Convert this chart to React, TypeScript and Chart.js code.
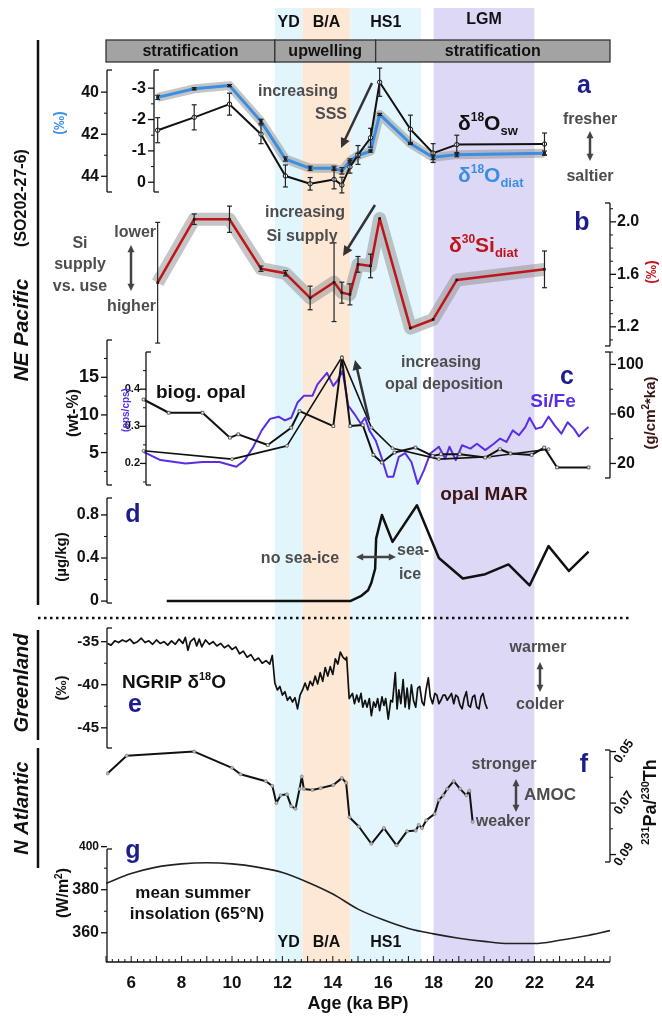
import React, { useEffect, useRef } from "react";
import { Chart, registerables } from "chart.js";

Chart.register(...registerables);

const W = 662;
const H = 1017;

// ---------------- data ----------------
const xTickValues = [6, 8, 10, 12, 14, 16, 18, 20, 22, 24];
const xTickLabels = ["6", "8", "10", "12", "14", "16", "18", "20", "22", "24"];

const bandNames = ["YD", "B/A", "HS1", "LGM"];
const bandStart = [11.7, 12.8, 14.7, 18.0];
const bandEnd = [12.8, 14.7, 17.5, 22.0];

const regimeNames = ["stratification", "upwelling", "stratification"];
const regimeStart = [5, 11.7, 15.7];
const regimeEnd = [11.7, 15.7, 25];

// panel a / b (SO202-27-6 samples)
const sampleAge = [7.05, 8.5, 9.9, 11.15, 12.12, 13.1, 14.05, 14.36, 14.68, 15.0, 15.5, 15.86, 17.08, 17.98, 18.92, 22.4];
const d18Odiat = [40.25, 39.84, 39.69, 41.39, 43.18, 43.62, 43.62, 43.74, 43.27, 43.01, 42.8, 41.06, 42.44, 43.1, 42.97, 42.9];
const d18OdiatErr = [0.1, 0.05, 0.05, 0.1, 0.1, 0.1, 0.1, 0.15, 0.1, 0.1, 0.05, 0.05, 0.05, 0.1, 0.1, 0.1];
const d18Osw = [-1.66, -2.07, -2.49, -1.53, -0.2, 0.05, -0.09, 0.09, -0.49, -0.87, -1.42, -3.19, -1.69, -0.93, -1.2, -1.22];
const d18OswErr = [0.4, 0.4, 0.35, 0.3, 0.35, 0.2, 0.3, 0.25, 0.2, 0.3, 0.3, 0.45, 0.45, 0.3, 0.3, 0.35];
const d30Si = [1.536, 2.02, 2.02, 1.643, 1.608, 1.42, 1.54, 1.46, 1.447, 1.676, 1.664, 2.025, 1.19, 1.256, 1.557, 1.638];
const d30SiErr = [0.46, 0.04, 0.1, 0.02, 0.02, 0.09, 0.3, 0.08, 0.08, 0.06, 0.09, 0, 0, 0, 0, 0.14];

// panel c
const opalAge = [6.49, 7.49, 8.83, 9.92, 10.25, 11.42, 12.35, 12.68, 14.02, 14.36, 14.69, 15.19, 15.61, 15.95, 16.45, 17.28, 17.96, 18.29, 19.04, 20.05, 20.63, 21.05, 21.89, 22.39, 22.9, 24.15];
const opalWt = [12.05, 10.29, 10.29, 6.98, 7.42, 6.01, 8.3, 10.5, 8.52, 17.6, 8.52, 8.65, 4.69, 3.68, 5.0, 5.66, 4.56, 4.78, 4.78, 4.34, 5.44, 4.87, 4.69, 5.66, 3.02, 3.02];
const marAge = [6.49, 10.0, 12.18, 14.36, 15.53, 16.37, 18.21, 20.22, 22.56];
const marVal = [30.2, 23.5, 34.2, 105.9, 49, 32.3, 23.5, 25.4, 31.5];
const siFeAge = [6.49, 7.16, 8.16, 8.83, 9.5, 10.17, 10.51, 10.84, 11.18, 11.51, 11.85, 12.1, 12.35, 12.6, 12.85, 13.19, 13.39, 13.77, 14.02, 14.19, 14.39, 14.61, 14.86, 15.11, 15.28, 15.45, 15.7, 15.95, 16.17, 16.4, 16.62, 16.87, 17.12, 17.37, 17.62, 17.87, 18.21, 18.46, 18.63, 18.88, 19.13, 19.46, 19.72, 20.05, 20.39, 20.64, 20.89, 21.14, 21.39, 21.64, 21.81, 22.06, 22.31, 22.56, 22.81, 23.07, 23.32, 23.57, 23.77, 23.99, 24.15];
const siFeVal = [0.231, 0.209, 0.2, 0.204, 0.204, 0.191, 0.209, 0.244, 0.289, 0.32, 0.326, 0.316, 0.323, 0.364, 0.382, 0.382, 0.413, 0.444, 0.409, 0.424, 0.449, 0.356, 0.333, 0.307, 0.323, 0.289, 0.262, 0.213, 0.164, 0.164, 0.218, 0.228, 0.204, 0.145, 0.182, 0.227, 0.245, 0.213, 0.245, 0.209, 0.249, 0.24, 0.253, 0.236, 0.253, 0.267, 0.258, 0.289, 0.276, 0.298, 0.323, 0.293, 0.298, 0.326, 0.302, 0.28, 0.311, 0.293, 0.273, 0.289, 0.298];

// panel d
const iceAge = [7.41, 14.69, 15.11, 15.4, 15.53, 15.68, 15.72, 15.95, 16.37, 17.34, 18.21, 19.16, 20.05, 20.97, 21.81, 22.56, 23.37, 24.15];
const iceVal = [0, 0, 0.045, 0.1, 0.17, 0.3, 0.58, 0.8, 0.55, 0.89, 0.4, 0.21, 0.25, 0.34, 0.145, 0.51, 0.28, 0.46];

// panel e (NGRIP d18O)
const ngripAge = [
  5.06, 5.2, 5.35, 5.5, 5.65, 5.8, 5.95, 6.1, 6.25, 6.4,
  6.55, 6.7, 6.85, 7.0, 7.15, 7.3, 7.45, 7.6, 7.75, 7.9,
  8.05, 8.15, 8.25, 8.35, 8.5, 8.6, 8.7, 8.8, 8.95, 9.1,
  9.25, 9.4, 9.55, 9.7, 9.85, 10.0, 10.15, 10.3, 10.45, 10.6,
  10.75, 10.9, 11.05, 11.2, 11.35, 11.5, 11.6, 11.7, 11.8, 11.9,
  12.0, 12.1, 12.2, 12.3, 12.4, 12.5, 12.6, 12.7, 12.8, 12.9,
  13.0, 13.1, 13.2, 13.3, 13.4, 13.5, 13.6, 13.7, 13.8, 13.9,
  14.0, 14.1, 14.2, 14.3, 14.4, 14.5, 14.55, 14.65, 14.78, 14.86,
  14.95, 15.03, 15.12, 15.19, 15.28, 15.36, 15.45, 15.53, 15.62, 15.7,
  15.78, 15.86, 15.95, 16.03, 16.1, 16.2, 16.3, 16.37, 16.48, 16.55,
  16.62, 16.7, 16.79, 16.87, 16.95, 17.03, 17.12, 17.2, 17.29, 17.37,
  17.45, 17.54, 17.62, 17.7, 17.79, 17.87, 17.96, 18.05, 18.13, 18.21,
  18.29, 18.38, 18.46, 18.54, 18.63, 18.71, 18.8, 18.88, 18.96, 19.05,
  19.13, 19.21, 19.3, 19.38, 19.46, 19.55, 19.63, 19.71, 19.8, 19.88,
  19.96, 20.05, 20.13,
];
const ngripVal = [
  -35.2, -35.4, -34.9, -35.1, -34.8, -35.0, -34.7, -35.2, -35.0, -34.6,
  -35.1, -34.9, -35.3, -34.8, -35.2, -35.0, -35.4, -34.9, -35.3, -34.7,
  -35.2, -34.5, -36.0, -35.0, -34.6, -35.5, -34.7, -35.6, -34.8, -35.3,
  -35.0, -35.5, -35.2, -35.7, -35.4, -35.9, -35.6, -36.4, -36.1, -36.8,
  -36.5, -37.2, -36.9, -37.5, -37.2, -37.6, -36.6, -39.8, -40.6, -40.2,
  -41.2, -40.8, -41.8, -41.4, -42.0, -41.5, -42.8, -41.2, -40.6, -39.8,
  -40.6, -39.6, -40.1, -39.0, -39.9, -38.6, -39.6, -38.0, -39.0, -37.9,
  -38.8, -37.0, -37.6, -36.2, -36.8, -37.1, -36.8, -41.6, -41.0, -42.2,
  -41.2, -42.0, -41.0, -42.6, -41.8, -42.6, -41.6, -43.6, -42.0, -42.6,
  -41.6, -43.0, -41.4, -42.4, -41.6, -44.0, -41.8, -42.0, -38.6, -42.8,
  -40.6, -42.2, -39.4, -42.6, -40.4, -42.8, -40.0, -41.8, -42.6, -40.4,
  -40.2, -42.0, -42.4, -40.6, -39.2, -41.4, -42.2, -41.0, -41.2, -42.2,
  -41.8, -41.2, -41.2, -41.8, -41.4, -41.0, -42.2, -41.2, -41.4, -42.4,
  -42.8, -41.6, -40.8, -42.4, -42.6, -41.4, -41.2, -42.6, -42.8, -41.4,
  -41.0, -42.2, -42.8,
];

// panel f (231Pa/230Th)
const paThAge = [5.06, 5.82, 8.5, 10.0, 10.34, 11.34, 11.6, 11.76, 11.93, 12.18, 12.35, 12.52, 12.68, 12.77, 12.85, 13.19, 13.52, 14.02, 14.36, 14.53, 14.66, 15.03, 15.53, 16.03, 16.53, 16.95, 17.29, 17.41, 17.54, 17.71, 18.04, 18.21, 18.38, 18.54, 18.8, 19.05, 19.3, 19.42, 19.55];
const paThVal = [0.0585, 0.0516, 0.05, 0.0563, 0.0588, 0.0615, 0.0633, 0.07, 0.067, 0.0666, 0.0712, 0.0722, 0.0645, 0.0597, 0.0645, 0.0649, 0.0642, 0.063, 0.0603, 0.0621, 0.0755, 0.0791, 0.0858, 0.0797, 0.0864, 0.0809, 0.0807, 0.0785, 0.0797, 0.0767, 0.0742, 0.0688, 0.067, 0.0645, 0.0615, 0.0645, 0.067, 0.0652, 0.0773];

// panel g (insolation)
const insolAge = [5, 6, 7, 8, 9, 10, 11, 12, 13, 14, 15, 16, 17, 18, 19, 20, 21, 22, 23, 24, 25];
const insolVal = [383, 387.5, 390.5, 392, 392.5, 392, 390.5, 388, 383.5, 378, 371, 366, 362, 359.5, 357.5, 356, 355, 355, 356.5, 358.5, 361];

// ---------------- styling / layout ----------------
const FF = "'Liberation Sans', Arial, Helvetica, sans-serif";
const B = (s) => `bold ${s}px ${FF}`;
const BLUE = "#3b8ee3";
const RED = "#c0141b";
const PURPLE = "#5a2ee6";
const NAVY = "#1c1c8c";
const GRAY_T = "#4d4d4d";
const MAROON = "#3a1414";
const BAND_COLORS = ["#e1f5fc", "#fde8d6", "#e3f6fd", "#ddd8f6"];

function lin(v1, p1, v2, p2) {
  const k = (p2 - p1) / (v2 - v1);
  const vAt = (p) => v1 + (p - p1) / k;
  return k < 0
    ? { min: vAt(H), max: vAt(0), reverse: false }
    : { min: vAt(0), max: vAt(H), reverse: true };
}

const AX = {
  aOut: lin(40, 88, 44, 173),
  aIn: lin(-3, 84, 0, 179),
  b: lin(2.0, 219, 1.2, 325),
  cOp: lin(15, 376, 5, 452),
  cCps: lin(0.4, 388, 0.2, 463),
  cMar: lin(100, 363, 20, 463),
  d: lin(0.8, 515, 0, 602),
  e: lin(-35, 643, -45, 730),
  f: lin(0.05, 754, 0.09, 858),
  g: lin(400, 850, 360, 937),
};

const pts = (xs, ys) => xs.map((x, i) => ({ x, y: ys[i] }));

// ---------------- drawing helpers ----------------
function text(ctx, t, x, y, font, color, align = "center", base = "middle") {
  ctx.font = font;
  ctx.fillStyle = color;
  ctx.textAlign = align;
  ctx.textBaseline = base;
  ctx.fillText(t, x, y);
}
function rotText(ctx, t, x, y, font, color, angle = -Math.PI / 2) {
  ctx.save();
  ctx.translate(x, y);
  ctx.rotate(angle);
  text(ctx, t, 0, 0, font, color);
  ctx.restore();
}
function rich(ctx, parts, x, y, color, align = "left") {
  let total = 0;
  for (const p of parts) {
    ctx.font = B(p.s);
    total += ctx.measureText(p.t).width;
  }
  let cx = align === "center" ? x - total / 2 : align === "right" ? x - total : x;
  ctx.fillStyle = color;
  ctx.textAlign = "left";
  ctx.textBaseline = "alphabetic";
  for (const p of parts) {
    ctx.font = B(p.s);
    ctx.fillText(p.t, cx, y + (p.dy || 0));
    cx += ctx.measureText(p.t).width;
  }
}
function line(ctx, x1, y1, x2, y2, color, w) {
  ctx.strokeStyle = color;
  ctx.lineWidth = w;
  ctx.beginPath();
  ctx.moveTo(x1, y1);
  ctx.lineTo(x2, y2);
  ctx.stroke();
}
function head(ctx, x1, y1, x2, y2, color, size) {
  const a = Math.atan2(y2 - y1, x2 - x1);
  ctx.fillStyle = color;
  ctx.beginPath();
  ctx.moveTo(x2, y2);
  ctx.lineTo(x2 - size * Math.cos(a - 0.45), y2 - size * Math.sin(a - 0.45));
  ctx.lineTo(x2 - size * Math.cos(a + 0.45), y2 - size * Math.sin(a + 0.45));
  ctx.closePath();
  ctx.fill();
}
function arrow(ctx, x1, y1, x2, y2, color, w, size) {
  const a = Math.atan2(y2 - y1, x2 - x1);
  line(ctx, x1, y1, x2 - size * 0.7 * Math.cos(a), y2 - size * 0.7 * Math.sin(a), color, w);
  head(ctx, x1, y1, x2, y2, color, size);
}
function dblArrow(ctx, x1, y1, x2, y2, color, w, size) {
  const a = Math.atan2(y2 - y1, x2 - x1);
  line(ctx, x1 + size * 0.7 * Math.cos(a), y1 + size * 0.7 * Math.sin(a), x2 - size * 0.7 * Math.cos(a), y2 - size * 0.7 * Math.sin(a), color, w);
  head(ctx, x1, y1, x2, y2, color, size);
  head(ctx, x2, y2, x1, y1, color, size);
}
function vAxis(ctx, scale, x, top, bottom, major, labels, minor, side, font, color, gap = 8, bracket = true) {
  const dir = side === "left" ? -1 : 1;
  ctx.lineCap = "butt";
  line(ctx, x, top, x, bottom, "#111", 1.3);
  if (bracket) {
    line(ctx, x, top, x - dir * 5, top, "#111", 1.3);
    line(ctx, x, bottom, x - dir * 5, bottom, "#111", 1.3);
  }
  for (const v of minor) {
    const y = scale.getPixelForValue(v);
    line(ctx, x, y, x + dir * 3, y, "#111", 1);
  }
  major.forEach((v, i) => {
    const y = scale.getPixelForValue(v);
    line(ctx, x, y, x + dir * 6, y, "#111", 1.3);
    if (labels && labels[i] != null) {
      text(ctx, labels[i], x + dir * gap, y, font, color, side === "left" ? "right" : "left");
    }
  });
}
function errBars(ctx, X, ys, ages, vals, errs, color, w) {
  ctx.lineCap = "butt";
  ages.forEach((a, i) => {
    if (!errs[i]) return;
    const x = X(a);
    const y1 = ys.getPixelForValue(vals[i] - errs[i]);
    const y2 = ys.getPixelForValue(vals[i] + errs[i]);
    line(ctx, x, y1, x, y2, color, w);
    line(ctx, x - 2.5, y1, x + 2.5, y1, color, w);
    line(ctx, x - 2.5, y2, x + 2.5, y2, color, w);
  });
}

const figPlugin = {
  id: "fig",
  beforeDatasetsDraw(chart) {
    const ctx = chart.ctx;
    const xs = chart.scales.x;
    ctx.save();
    bandNames.forEach((n, i) => {
      const x1 = xs.getPixelForValue(bandStart[i]);
      const x2 = xs.getPixelForValue(bandEnd[i]);
      ctx.fillStyle = BAND_COLORS[i];
      ctx.fillRect(x1, 8, x2 - x1, 954);
    });
    ctx.restore();
  },
  afterDatasetsDraw(chart) {
    const ctx = chart.ctx;
    const S = chart.scales;
    const xs = S.x;
    const X = (a) => xs.getPixelForValue(a);
    ctx.save();

    // error bars
    errBars(ctx, X, S.aIn, sampleAge, d18Osw, d18OswErr, "#222", 1.2);
    errBars(ctx, X, S.aOut, sampleAge, d18Odiat, d18OdiatErr, "#222", 1.2);
    errBars(ctx, X, S.b, sampleAge, d30Si, d30SiErr, "#222", 1.2);

    // band labels (top + bottom)
    bandNames.forEach((n, i) => {
      const cx = (X(bandStart[i]) + X(bandEnd[i])) / 2;
      text(ctx, n, cx, n === "LGM" ? 20 : 23, B(16), "#111");
      if (n !== "LGM") text(ctx, n, cx, 943, B(16), "#111");
    });

    // regime bar
    regimeNames.forEach((n, i) => {
      const x1 = X(regimeStart[i]);
      const x2 = X(regimeEnd[i]);
      ctx.fillStyle = "#a3a3a3";
      ctx.fillRect(x1, 40, x2 - x1, 22);
      ctx.strokeStyle = "#333";
      ctx.lineWidth = 1.3;
      ctx.strokeRect(x1, 40, x2 - x1, 22);
      text(ctx, n, (x1 + x2) / 2, 52, B(16), "#111");
    });

    // region group labels
    ctx.lineCap = "butt";
    line(ctx, 38, 40, 38, 605, "#111", 2.5);
    line(ctx, 38, 630, 38, 740, "#111", 2.5);
    line(ctx, 38, 748, 38, 868, "#111", 2.5);
    rotText(ctx, "(SO202-27-6)", 22, 198, B(16), "#111");
    rotText(ctx, "NE Pacific", 22, 330, `italic bold 21px ${FF}`, "#111");
    rotText(ctx, "Greenland", 22, 683, `italic bold 20px ${FF}`, "#111");
    rotText(ctx, "N Atlantic", 22, 808, `italic bold 20px ${FF}`, "#111");

    // dotted separator
    ctx.setLineDash([2.5, 3.5]);
    line(ctx, 38, 618, 632, 618, "#111", 2.5);
    ctx.setLineDash([]);

    // ---- panel a
    vAxis(ctx, S.aOut, 107, 70, 192, [40, 42, 44], ["40", "42", "44"], [41, 43], "left", B(16), "#111");
    vAxis(ctx, S.aIn, 154, 70, 192, [-3, -2, -1, 0], ["-3", "-2", "-1", "0"], [-2.5, -1.5, -0.5], "left", B(16), "#111");
    rotText(ctx, "(‰)", 60, 123, B(14), BLUE);
    text(ctx, "increasing", 298, 92, B(16), GRAY_T);
    text(ctx, "SSS", 331, 115, B(16), GRAY_T);
    arrow(ctx, 372, 83, 341, 148, "#333", 2.5, 11);
    rich(ctx, [{ t: "δ", s: 21 }, { t: "18", s: 12, dy: -9 }, { t: "O", s: 21 }, { t: "sw", s: 13, dy: 5 }], 458, 130, "#111");
    rich(ctx, [{ t: "δ", s: 21 }, { t: "18", s: 12, dy: -9 }, { t: "O", s: 21 }, { t: "diat", s: 13, dy: 5 }], 458, 182, BLUE);
    text(ctx, "a", 584, 86, B(25), NAVY);
    text(ctx, "fresher", 590, 120, B(16), GRAY_T);
    dblArrow(ctx, 590, 131, 590, 161, "#444", 2.5, 8);
    text(ctx, "saltier", 590, 177, B(16), GRAY_T);

    // ---- panel b
    vAxis(ctx, S.b, 610, 203, 346, [2.0, 1.6, 1.2], ["2.0", "1.6", "1.2"], [2.1, 1.9, 1.8, 1.7, 1.5, 1.4, 1.3, 1.1], "right", B(16), "#111", 7);
    rotText(ctx, "(‰)", 652, 272, B(14), RED);
    text(ctx, "lower", 156, 233, B(16), GRAY_T, "right");
    text(ctx, "Si", 80, 244, B(16), GRAY_T);
    text(ctx, "supply", 80, 265, B(16), GRAY_T);
    text(ctx, "vs. use", 80, 287, B(16), GRAY_T);
    text(ctx, "higher", 156, 307, B(16), GRAY_T, "right");
    dblArrow(ctx, 131, 245, 131, 291, "#444", 2.5, 8);
    text(ctx, "increasing", 305, 213, B(16), GRAY_T);
    text(ctx, "Si supply", 302, 237, B(16), GRAY_T);
    arrow(ctx, 375, 205, 343, 256, "#333", 2.5, 11);
    rich(ctx, [{ t: "δ", s: 21 }, { t: "30", s: 12, dy: -9 }, { t: "Si", s: 21 }, { t: "diat", s: 13, dy: 5 }], 449, 252, RED);
    text(ctx, "b", 582, 223, B(25), NAVY);

    // ---- panel c
    vAxis(ctx, S.cOp, 107, 340, 485, [15, 10, 5], ["15", "10", "5"], [17.5, 12.5, 7.5, 2.5], "left", B(18), "#111");
    vAxis(ctx, S.cCps, 146, 352, 485, [0.4, 0.3, 0.2], ["0.4", "0.3", "0.2"], [0.45, 0.35, 0.25, 0.15], "left", B(11), "#111", 6);
    vAxis(ctx, S.cMar, 610, 352, 478, [100, 60, 20], ["100", "60", "20"], [110, 80, 40], "right", B(16), "#111", 7);
    rotText(ctx, "(wt-%)", 74, 413, B(16), "#111");
    rotText(ctx, "(cps/cps)", 126, 410, B(10), PURPLE);
    ctx.save();
    ctx.translate(650, 413);
    ctx.rotate(-Math.PI / 2);
    rich(ctx, [{ t: "(g/cm", s: 15 }, { t: "2", s: 10, dy: -6 }, { t: "*ka)", s: 15 }], 0, 5, MAROON, "center");
    ctx.restore();
    text(ctx, "biog. opal", 156, 393, B(19), "#111", "left");
    text(ctx, "increasing", 441, 363, B(16), GRAY_T);
    text(ctx, "opal deposition", 444, 385, B(16), GRAY_T);
    arrow(ctx, 369, 420, 355, 360, "#333", 2.5, 11);
    text(ctx, "c", 567, 377, B(25), NAVY);
    text(ctx, "Si/Fe", 553, 402, B(19), PURPLE);
    text(ctx, "opal MAR", 484, 495, B(19), MAROON);

    // ---- panel d
    vAxis(ctx, S.d, 107, 498, 603, [0.8, 0.4, 0], ["0.8", "0.4", "0"], [0.6, 0.2], "left", B(16), "#111");
    rotText(ctx, "(µg/kg)", 62, 557, B(15), "#111");
    text(ctx, "d", 133, 515, B(25), NAVY);
    text(ctx, "no sea-ice", 300, 559, B(16), GRAY_T);
    dblArrow(ctx, 356, 557, 396, 557, "#444", 2.5, 8);
    text(ctx, "sea-", 397, 551, B(16), GRAY_T, "left");
    text(ctx, "ice", 410, 575, B(16), GRAY_T);

    // ---- panel e
    vAxis(ctx, S.e, 107, 628, 748, [-35, -40, -45], ["-35", "-40", "-45"], [-37.5, -42.5], "left", B(15), "#111");
    rotText(ctx, "(‰)", 62, 688, B(15), "#111");
    rich(ctx, [{ t: "NGRIP δ", s: 19 }, { t: "18", s: 11, dy: -8 }, { t: "O", s: 19 }], 122, 688, "#111");
    text(ctx, "e", 135, 705, B(25), NAVY);
    text(ctx, "warmer", 538, 648, B(16), GRAY_T);
    dblArrow(ctx, 540, 662, 540, 692, "#444", 2.5, 8);
    text(ctx, "colder", 540, 705, B(16), GRAY_T);

    // ---- panel f
    vAxis(ctx, S.f, 610, 750, 862, [0.05, 0.07, 0.09], null, [0.06, 0.08], "right", B(13), "#111");
    [[0.05, "0.05"], [0.07, "0.07"], [0.09, "0.09"]].forEach(([v, l]) => {
      const y = S.f.getPixelForValue(v);
      ctx.save();
      ctx.translate(624, y);
      ctx.rotate(-Math.PI / 3.2);
      text(ctx, l, 0, 0, B(13), "#111");
      ctx.restore();
    });
    ctx.save();
    ctx.translate(650, 802);
    ctx.rotate(-Math.PI / 2);
    rich(ctx, [{ t: "231", s: 11, dy: -7 }, { t: "Pa/", s: 18 }, { t: "230", s: 11, dy: -7 }, { t: "Th", s: 18 }], 0, 6, "#111", "center");
    ctx.restore();
    text(ctx, "stronger", 504, 765, B(16), GRAY_T);
    text(ctx, "f", 584, 765, B(25), NAVY);
    dblArrow(ctx, 516, 779, 516, 812, "#444", 2.5, 8);
    text(ctx, "AMOC", 524, 795, B(17), GRAY_T, "left");
    text(ctx, "weaker", 503, 822, B(16), GRAY_T);

    // ---- panel g
    vAxis(ctx, S.g, 107, 849, 962, [400, 380, 360], null, [390, 370], "left", B(15), "#111", 8, false);
    line(ctx, 107, 849, 112, 849, "#111", 1.3);
    text(ctx, "400", 99, S.g.getPixelForValue(400), B(12), "#111", "right");
    text(ctx, "380", 99, S.g.getPixelForValue(380), B(16), "#111", "right");
    text(ctx, "360", 99, S.g.getPixelForValue(360), B(16), "#111", "right");
    ctx.save();
    ctx.translate(62, 893);
    ctx.rotate(-Math.PI / 2);
    rich(ctx, [{ t: "(W/m", s: 16 }, { t: "2", s: 10, dy: -6 }, { t: ")", s: 16 }], 0, 6, "#111", "center");
    ctx.restore();
    text(ctx, "g", 133, 851, B(25), NAVY);
    text(ctx, "mean summer", 193, 893, B(17), "#111");
    text(ctx, "insolation (65°N)", 197, 914, B(17), "#111");

    // ---- x axis
    const axY = 962;
    line(ctx, X(5), axY, X(25), axY, "#111", 1.5);
    for (let q = 0; q <= 80; q++) {
      const v = 5 + q * 0.25;
      const x = X(v);
      const len = q % 4 === 0 ? 6 : 3;
      line(ctx, x, axY, x, axY - len, "#111", 1);
    }
    xTickValues.forEach((v, i) => text(ctx, xTickLabels[i], X(v), 983, B(17), "#111"));
    text(ctx, "Age (ka BP)", 358, 1004, B(18), "#111");

    ctx.restore();
  },
};

function buildConfig() {
  const ds = [
    { yAxisID: "aOut", data: pts(sampleAge, d18Odiat), borderColor: "rgba(150,150,150,0.55)", borderWidth: 9, pointRadius: 0 },
    { yAxisID: "aOut", data: pts(sampleAge, d18Odiat), borderColor: BLUE, borderWidth: 3, pointRadius: 2, pointStyle: "rect", pointBackgroundColor: "#111", pointBorderColor: "#111", pointBorderWidth: 0 },
    { yAxisID: "aIn", data: pts(sampleAge, d18Osw), borderColor: "#111", borderWidth: 2, pointRadius: 2.2, pointBackgroundColor: "#fff", pointBorderColor: "#111", pointBorderWidth: 1 },
    { yAxisID: "b", data: pts(sampleAge, d30Si), borderColor: "rgba(150,150,150,0.55)", borderWidth: 13, pointRadius: 0 },
    { yAxisID: "b", data: pts(sampleAge, d30Si), borderColor: RED, borderWidth: 2.5, pointRadius: 1.8, pointStyle: "rect", pointBackgroundColor: "#111", pointBorderColor: "#111", pointBorderWidth: 0 },
    { yAxisID: "cCps", data: pts(siFeAge, siFeVal), borderColor: PURPLE, borderWidth: 2, pointRadius: 0 },
    { yAxisID: "cMar", data: pts(marAge, marVal), borderColor: "#111", borderWidth: 1.6, pointRadius: 1.5, pointBackgroundColor: "#ddd", pointBorderColor: "#555", pointBorderWidth: 0.8 },
    { yAxisID: "cOp", data: pts(opalAge, opalWt), borderColor: "#111", borderWidth: 2, pointRadius: 2, pointStyle: "rect", pointBackgroundColor: "#eee", pointBorderColor: "#444", pointBorderWidth: 0.8 },
    { yAxisID: "d", data: pts(iceAge, iceVal), borderColor: "#111", borderWidth: 2.5, pointRadius: 0 },
    { yAxisID: "e", data: pts(ngripAge, ngripVal), borderColor: "#111", borderWidth: 1.7, pointRadius: 0 },
    { yAxisID: "f", data: pts(paThAge, paThVal), borderColor: "#111", borderWidth: 2, pointRadius: 1.6, pointBackgroundColor: "#bbb", pointBorderColor: "#777", pointBorderWidth: 0.6 },
    { yAxisID: "g", data: pts(insolAge, insolVal), borderColor: "#222", borderWidth: 1.6, pointRadius: 0, tension: 0.4, cubicInterpolationMode: "monotone" },
  ];
  const n = ds.length;
  ds.forEach((d, i) => {
    d.order = n - i;
    d.fill = false;
    d.borderJoinStyle = "round";
    if (d.tension === undefined) d.tension = 0;
  });
  const scales = {
    x: { type: "linear", display: false, min: 5, max: 25, bounds: "data" },
  };
  Object.keys(AX).forEach((k) => {
    scales[k] = { type: "linear", display: false, min: AX[k].min, max: AX[k].max, reverse: AX[k].reverse, bounds: "data", grace: 0 };
  });
  return {
    type: "line",
    data: { datasets: ds },
    options: {
      animation: false,
      responsive: false,
      maintainAspectRatio: false,
      events: [],
      layout: { padding: { left: 106, right: 52, top: 0, bottom: 0 } },
      plugins: { legend: { display: false }, tooltip: { enabled: false }, title: { display: false } },
      scales,
    },
    plugins: [figPlugin],
  };
}

export default function App() {
  const ref = useRef(null);
  useEffect(() => {
    document.body.style.margin = "0";
    const chart = new Chart(ref.current, buildConfig());
    return () => chart.destroy();
  }, []);
  return <canvas ref={ref} width={W} height={H} style={{ display: "block", width: W, height: H }} />;
}
